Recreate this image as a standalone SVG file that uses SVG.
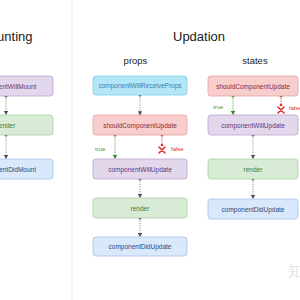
<svg xmlns="http://www.w3.org/2000/svg" width="300" height="300" viewBox="0 0 300 300">
<defs>
<style>
.title{font-family:"Liberation Sans",Arial,sans-serif;font-size:13px;fill:#222;font-weight:500}
.sub{font-family:"Liberation Sans",Arial,sans-serif;font-size:9.5px;fill:#222}
.lbl{font-family:"Liberation Sans",Arial,sans-serif;font-size:6.5px;text-anchor:middle;dominant-baseline:central}
.tf{font-family:"Liberation Sans",Arial,sans-serif;font-size:6px}
.cyan rect{fill:#b3e6f7;stroke:#7fcdea;stroke-width:0.8}
.cyan text{fill:#3b7fb6}
.pink rect{fill:#f8cecc;stroke:#e3a1a1;stroke-width:0.8}
.pink text{fill:#8b2a3a}
.purple rect{fill:#e3d7ec;stroke:#b9a3cf;stroke-width:0.8}
.purple text{fill:#5b3a7e}
.green rect{fill:#d8ebd4;stroke:#a9cfa4;stroke-width:0.8}
.green text{fill:#3d7a3a}
.blue rect{fill:#dae8fc;stroke:#a6c0e8;stroke-width:0.8}
.blue text{fill:#2c4a7a}
.con{fill:none;stroke:#888;stroke-width:0.9;stroke-dasharray:1.2 1.2}
.cong{fill:none;stroke:#4a9a3a;stroke-width:0.9;stroke-dasharray:1.2 1.2}
.conr{fill:none;stroke:#d33;stroke-width:0.9;stroke-dasharray:1.2 1.2}
</style>
<marker id="ah" viewBox="0 0 6 6" refX="5" refY="3" markerWidth="5" markerHeight="5" orient="auto"><path d="M0,0 L6,3 L0,6 z" fill="#556"/></marker>
<marker id="ahg" viewBox="0 0 6 6" refX="5" refY="3" markerWidth="5" markerHeight="5" orient="auto"><path d="M0,0 L6,3 L0,6 z" fill="#3a8a2a"/></marker>
<marker id="dot" viewBox="0 0 6 6" refX="3" refY="3" markerWidth="4" markerHeight="4"><circle cx="3" cy="3" r="2.5" fill="#556"/></marker>
<marker id="dotg" viewBox="0 0 6 6" refX="3" refY="3" markerWidth="4" markerHeight="4"><circle cx="3" cy="3" r="2.5" fill="#3a8a2a"/></marker>
<marker id="dotr" viewBox="0 0 6 6" refX="3" refY="3" markerWidth="4" markerHeight="4"><circle cx="3" cy="3" r="2.5" fill="#d33"/></marker>
<g id="xicon"><circle cx="0" cy="-3" r="1.3" fill="#e03030"/><path d="M-3,-1 L3,5 M3,-1 L-3,5" stroke="#e03030" stroke-width="1.6" stroke-linecap="round"/></g>
</defs>
<rect width="300" height="300" fill="#fff"/>
<line x1="72" y1="0" x2="72" y2="300" stroke="#b5d69f" stroke-width="0.8" stroke-dasharray="1.2 1.5"/>
<text class="title" x="-21" y="41">Mounting</text>
<text class="title" x="173" y="41">Updation</text>
<text class="sub" x="135.5" y="63.5" text-anchor="middle">props</text>
<text class="sub" x="255" y="63.5" text-anchor="middle">states</text>

<g id="connectors">
<line class="con" x1="6" y1="96" x2="6" y2="114.5" marker-start="url(#dot)" marker-end="url(#ah)"/>
<line class="con" x1="6" y1="135" x2="6" y2="158.5" marker-start="url(#dot)" marker-end="url(#ah)"/>
<line class="con" x1="140" y1="95" x2="140" y2="115" marker-start="url(#dot)" marker-end="url(#ah)"/>
<line class="cong" x1="115" y1="135" x2="115" y2="158.5" marker-start="url(#dotg)" marker-end="url(#ahg)"/>
<line class="conr" x1="162" y1="135" x2="162" y2="144" marker-start="url(#dotr)"/>
<line class="con" x1="140" y1="179" x2="140" y2="197.5" marker-start="url(#dot)" marker-end="url(#ah)"/>
<line class="con" x1="140" y1="218" x2="140" y2="236.5" marker-start="url(#dot)" marker-end="url(#ah)"/>
<line class="cong" x1="233" y1="96" x2="233" y2="114.5" marker-start="url(#dotg)" marker-end="url(#ahg)"/>
<line class="conr" x1="281" y1="96" x2="281" y2="104" marker-start="url(#dotr)"/>
<line class="con" x1="253" y1="135" x2="253" y2="158.5" marker-start="url(#dot)" marker-end="url(#ah)"/>
<line class="con" x1="253" y1="179" x2="253" y2="198.5" marker-start="url(#dot)" marker-end="url(#ah)"/>
<use href="#xicon" x="162" y="148"/>
<use href="#xicon" x="281" y="108"/>
<text class="tf" x="95" y="151" fill="#4a9a3a">true</text>
<text class="tf" x="171" y="151" fill="#d33">false</text>
<text class="tf" x="213" y="109" fill="#4a9a3a">true</text>
<text class="tf" x="289" y="110" fill="#d33">false</text>
</g>

<g id="m-willmount" class="purple"><rect x="-41" y="76" width="94" height="20" rx="3"/><text class="lbl" x="6" y="86">componentWillMount</text></g>
<g id="m-render" class="green"><rect x="-41" y="115" width="94" height="20" rx="3"/><text class="lbl" x="6" y="125">render</text></g>
<g id="m-didmount" class="blue"><rect x="-41" y="159" width="94" height="20" rx="3"/><text class="lbl" x="6" y="169">componentDidMount</text></g>

<g id="p-receiveprops" class="cyan"><rect x="93" y="76" width="94" height="19" rx="3"/><text class="lbl" x="140" y="85.5">componentWillReceiveProps</text></g>
<g id="p-shouldupdate" class="pink"><rect x="93" y="115" width="94" height="20" rx="3"/><text class="lbl" x="140" y="125">shouldComponentUpdate</text></g>
<g id="p-willupdate" class="purple"><rect x="93" y="159" width="94" height="20" rx="3"/><text class="lbl" x="140" y="169">componentWillUpdate</text></g>
<g id="p-render" class="green"><rect x="93" y="198" width="94" height="20" rx="3"/><text class="lbl" x="140" y="208">render</text></g>
<g id="p-didupdate" class="blue"><rect x="93" y="237" width="94" height="19" rx="3"/><text class="lbl" x="140" y="246.5">componentDidUpdate</text></g>

<g id="s-shouldupdate" class="pink"><rect x="208" y="76" width="90" height="20" rx="3"/><text class="lbl" x="253" y="86">shouldComponentUpdate</text></g>
<g id="s-willupdate" class="purple"><rect x="208" y="115" width="90" height="20" rx="3"/><text class="lbl" x="253" y="125">componentWillUpdate</text></g>
<g id="s-render" class="green"><rect x="208" y="159" width="90" height="20" rx="3"/><text class="lbl" x="253" y="169">render</text></g>
<g id="s-didupdate" class="blue"><rect x="208" y="199" width="90" height="20" rx="3"/><text class="lbl" x="253" y="209">componentDidUpdate</text></g>

<text x="288" y="277" font-family="'Noto Sans CJK SC',sans-serif" font-size="15" fill="#e6e6e6">知</text>
</svg>
